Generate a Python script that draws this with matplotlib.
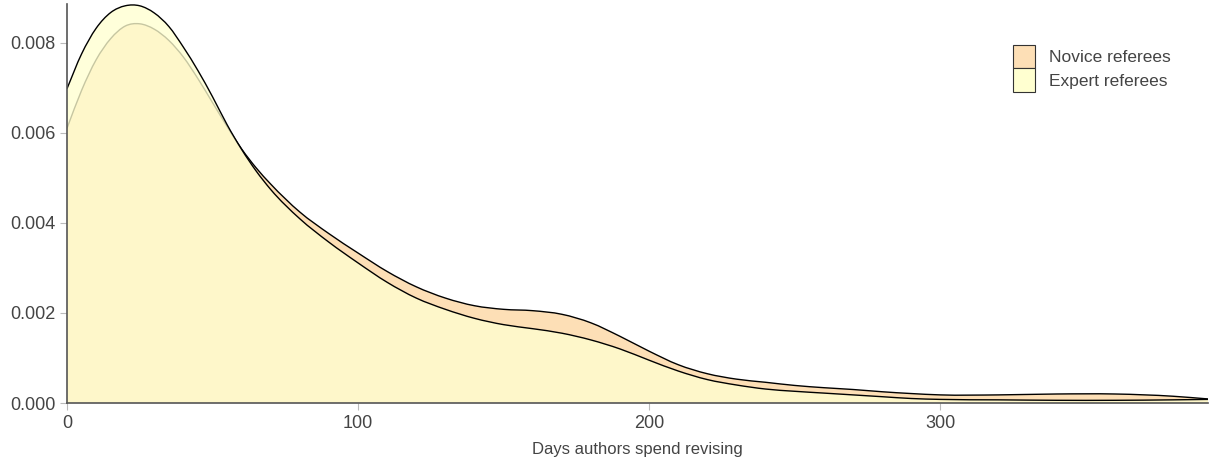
import matplotlib
matplotlib.use("Agg")
import matplotlib.pyplot as plt
import numpy as np
from matplotlib.patches import Patch, PathPatch
from matplotlib.path import Path

# density readings (days -> density)
days = [0, 5, 10, 15, 20, 25, 30, 35, 40, 45, 50, 55, 60, 65, 70, 80, 90, 100,
        110, 120, 130, 140, 150, 160, 170, 180, 190, 200, 210, 220, 230, 240,
        250, 260, 270, 280, 290, 300, 320, 340, 360, 380, 392]

novice = [0.00610, 0.00694, 0.00762, 0.00809, 0.00837, 0.00842, 0.00830, 0.00805,
          0.00768, 0.00720, 0.00667, 0.00614, 0.00564, 0.00522, 0.00486, 0.00424,
          0.00376, 0.00333, 0.00292, 0.00258, 0.00233, 0.00216, 0.00208, 0.00205,
          0.00197, 0.00178, 0.00148, 0.00115, 0.00085, 0.00065, 0.00053, 0.00046,
          0.00039, 0.00034, 0.00030, 0.00025, 0.00021, 0.00018, 0.00018, 0.00020,
          0.00020, 0.00015, 0.00009]

expert = [0.00698, 0.00775, 0.00832, 0.00867, 0.00882, 0.00882, 0.00866, 0.00836,
          0.00790, 0.00738, 0.00680, 0.00618, 0.00563, 0.00515, 0.00474, 0.00409,
          0.00357, 0.00311, 0.00268, 0.00233, 0.00208, 0.00188, 0.00174, 0.00165,
          0.00155, 0.00140, 0.00120, 0.00095, 0.00071, 0.00052, 0.00040, 0.00031,
          0.00026, 0.00022, 0.00018, 0.00014, 0.00010, 0.00008, 0.00007, 0.00006,
          0.00006, 0.00007, 0.00008]

labels = ["Novice referees", "Expert referees"]
novice_col = "#fddfb6"
expert_col = "#ffffd0"


def curve(x, y, closed=False):
    # smooth bezier path through the read points
    x = np.asarray(x, float)
    y = np.asarray(y, float)
    m = np.gradient(y, x)
    verts = [(x[0], y[0])]
    codes = [Path.MOVETO]
    for i in range(len(x) - 1):
        h = x[i + 1] - x[i]
        verts += [(x[i] + h / 3, y[i] + m[i] * h / 3),
                  (x[i + 1] - h / 3, y[i + 1] - m[i + 1] * h / 3),
                  (x[i + 1], y[i + 1])]
        codes += [Path.CURVE4] * 3
    if closed:
        verts = [(x[0], 0)] + verts + [(x[-1], 0), (x[0], 0)]
        codes = [Path.MOVETO, Path.LINETO] + codes[1:] + [Path.LINETO, Path.CLOSEPOLY]
    return Path(verts, codes)


plt.rcParams['font.family'] = ['Liberation Sans', 'DejaVu Sans']

fig = plt.figure(figsize=(12.14, 4.63), dpi=100)
ax = fig.add_axes([67/1214, 60/463, (1208-67)/1214, 399/463])

ax.add_patch(PathPatch(curve(days, novice, True), facecolor=novice_col, lw=0, zorder=1))
ax.add_patch(PathPatch(curve(days, novice), fill=False, edgecolor="black", lw=1, zorder=2))
ax.add_patch(PathPatch(curve(days, expert, True), facecolor=expert_col, alpha=0.78, lw=0, zorder=3))
ax.add_patch(PathPatch(curve(days, expert), fill=False, edgecolor="black", lw=1, zorder=4))

ax.set_xlim(0, 392)
ax.set_ylim(0, 0.00886)
ax.set_xticks([0, 100, 200, 300])
ax.set_yticks([0, 0.002, 0.004, 0.006, 0.008])
ax.set_yticklabels(["0.000", "0.002", "0.004", "0.006", "0.008"])

for s in ["top", "right"]:
    ax.spines[s].set_visible(False)
for s in ["left", "bottom"]:
    ax.spines[s].set_color("#555555")
    ax.spines[s].set_linewidth(1.2)
    ax.spines[s].set_zorder(5)
ax.tick_params(colors="#bbbbbb", labelcolor="#444444", labelsize=13, length=5)

ax.set_xlabel("Days authors spend revising", fontsize=12, color="#444444", labelpad=7)

handles = [Patch(facecolor=novice_col, edgecolor="#333333", lw=0.8),
           Patch(facecolor=expert_col, edgecolor="#333333", lw=0.8)]
ax.legend(handles, labels, loc="upper left", bbox_to_anchor=(0.823, 0.915),
          frameon=False, fontsize=12.5, labelcolor="#444444",
          handlelength=1.25, handleheight=1.7, handletextpad=0.8,
          labelspacing=0.0, borderaxespad=0)

fig.savefig("out.png", dpi=100)
